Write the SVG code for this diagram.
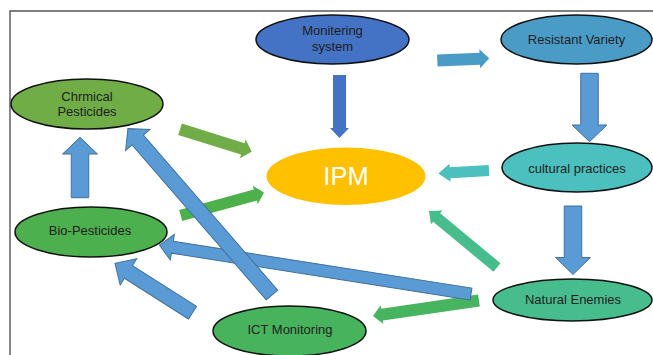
<svg xmlns="http://www.w3.org/2000/svg" width="653" height="355" viewBox="0 0 653 355">
<style>
.n{stroke:#111;stroke-width:1.5}
.t{font-family:"Liberation Sans",Arial,sans-serif;font-size:13px;fill:#1e1e1e;text-anchor:middle}
.b{fill:#5B9BD5;stroke:#41719C;stroke-width:1}
</style>
<rect width="653" height="355" fill="#fff"/>
<path d="M10,355 V11 H653" fill="none" stroke="#555" stroke-width="1.4"/>
<g id="connectors">
<path fill="#4472C4" d="M0,-6.5 H53 V-9.5 L63,0 L53,9.5 V6.5 H0 Z" transform="translate(339.5,75) rotate(90)"/>
<path fill="#4A9CC7" d="M0,-6 H42.5 V-9.5 L52,0 L42.5,9.5 V6 H0 Z" transform="translate(437.3,60.5) rotate(-2.4)"/>
<path class="b" d="M0,-8.75 H51.7 V-17.5 L68.4,0 L51.7,17.5 V8.75 H0 Z" transform="translate(589.5,73.3) rotate(90)"/>
<path fill="#4BC0BE" d="M0,-5.5 H39 V-9 L50.8,0 L39,9 V5.5 H0 Z" transform="translate(489,170.5) rotate(176.6)"/>
<path class="b" d="M0,-8.75 H51.5 V-17.5 L68.5,0 L51.5,17.5 V8.75 H0 Z" transform="translate(573,206) rotate(90)"/>
<path fill="#47BD8E" d="M0,-5.5 H78.4 V-9 L88.4,0 L78.4,9 V5.5 H0 Z" transform="translate(497,267.5) rotate(219.7)"/>
<path fill="#47B560" d="M0,-6 H98 V-9.5 L107.1,0 L98,9.5 V6 H0 Z" transform="translate(479,300.5) rotate(171.7)"/>
<path fill="#70AD47" d="M0,-6 H65.8 V-9.7 L75.1,0 L65.8,9.7 V6 H0 Z" transform="translate(180,129.2) rotate(17.4)"/>
<path fill="#4CB04B" d="M0,-5.75 H77.4 V-9.5 L86.4,0 L77.4,9.5 V5.75 H0 Z" transform="translate(180.7,215.5) rotate(-15.4)"/>
<path class="b" d="M0,-6 H302.3 V-13 L315.3,0 L302.3,13 V6 H0 Z" transform="translate(471,294) rotate(188.9)"/>
<path class="b" d="M0,-7.5 H205.1 V-16 L220.1,0 L205.1,16 V7.5 H0 Z" transform="translate(272,295) rotate(229.1)"/>
<path class="b" d="M0,-7.5 H75.9 V-15.5 L91.9,0 L75.9,15.5 V7.5 H0 Z" transform="translate(192.5,312.7) rotate(212.5)"/>
<path class="b" d="M0,-8.75 H43.7 V-17.5 L60.4,0 L43.7,17.5 V8.75 H0 Z" transform="translate(80,197.7) rotate(-90)"/>
</g>
<g id="monitoring">
<ellipse class="n" cx="332.5" cy="39.5" rx="76.5" ry="24.5" fill="#4472C4"/>
<text class="t" x="332.5" y="35">Monitering</text>
<text class="t" x="332.5" y="51">system</text>
</g>
<g id="resistant">
<ellipse class="n" cx="576.5" cy="39.5" rx="75.5" ry="24.5" fill="#4A9CC7"/>
<text class="t" x="576.5" y="44">Resistant Variety</text>
</g>
<g id="chemical">
<ellipse class="n" cx="87" cy="104" rx="76" ry="25" fill="#70AD47"/>
<text class="t" x="87" y="100.5">Chrmical</text>
<text class="t" x="87" y="116">Pesticides</text>
</g>
<g id="ipm">
<ellipse cx="346" cy="176.3" rx="79.5" ry="28.7" fill="#FFC000"/>
<text x="346" y="184.5" font-family="Liberation Sans,Arial,sans-serif" font-size="25.5" fill="#fff" text-anchor="middle">IPM</text>
</g>
<g id="cultural">
<ellipse class="n" cx="577" cy="167.5" rx="75" ry="24.5" fill="#4BC0BE"/>
<text class="t" x="577" y="172.5">cultural practices</text>
</g>
<g id="bio">
<ellipse class="n" cx="91" cy="232" rx="76" ry="25" fill="#4DB04E"/>
<text class="t" x="90" y="234.5">Bio-Pesticides</text>
</g>
<g id="ict">
<ellipse class="n" cx="289.5" cy="331" rx="76.5" ry="25" fill="#47B35C"/>
<text class="t" x="290" y="333.5">ICT Monitoring</text>
</g>
<g id="natural">
<ellipse class="n" cx="572.5" cy="300" rx="79.5" ry="21" fill="#47BD8E"/>
<text class="t" x="573" y="303.5">Natural Enemies</text>
</g>
</svg>
